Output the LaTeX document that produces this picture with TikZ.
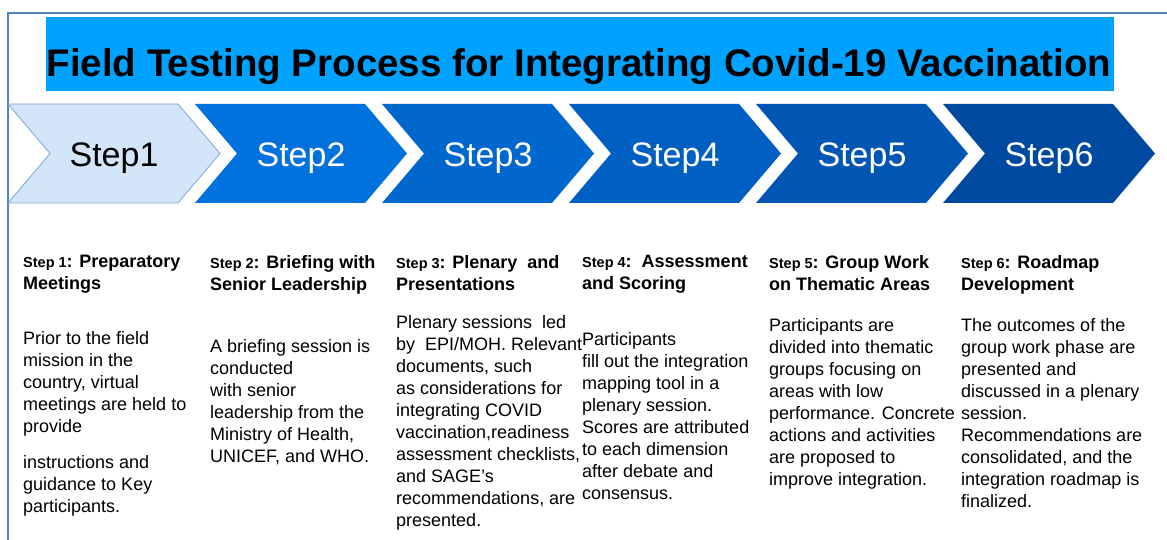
\documentclass[tikz,border=0pt]{standalone}
\usepackage{fontspec}
\setmainfont{Liberation Sans}
\definecolor{frameC}{HTML}{4F83C0}
\definecolor{titleC}{HTML}{00A2FF}
\definecolor{s1fill}{HTML}{D3E5F8}
\definecolor{s1line}{HTML}{7CA6D8}
\definecolor{s2C}{HTML}{0071DD}
\definecolor{s3C}{HTML}{0067CD}
\definecolor{s4C}{HTML}{005FC2}
\definecolor{s5C}{HTML}{0056B2}
\definecolor{s6C}{HTML}{0049A0}
\tikzset{
  steplabel/.style={font=\fontsize{34}{40}\selectfont, text=white, inner sep=0pt, anchor=base},
  hdr/.style={font=\bfseries\fontsize{18}{22}\selectfont, align=left, anchor=north west, inner sep=0pt},
  bodytext/.style={font=\fontsize{18}{22}\selectfont, align=left, anchor=north west, inner sep=0pt},
}
\newcommand{\sm}[1]{{\fontsize{14.5}{22}\selectfont #1}}
\begin{document}
\begin{tikzpicture}[x=1pt,y=-1pt]
\useasboundingbox (0,0) rectangle (1167,540);
\fill[white] (0,0) rectangle (1167,540);
% frame
\draw[frameC, line width=1.2pt] (8,540) -- (8,13) -- (1167,13);
% title
\node[fill=titleC, minimum width=1068pt, minimum height=74pt, inner sep=0pt, anchor=north west] (titlebox) at (46,17) {};
\node[font=\bfseries\fontsize{38.5}{44}\selectfont, inner sep=0pt, anchor=base] (title) at (579,77) {Field Testing Process for Integrating Covid-19 Vaccination};
% chevrons
\foreach \k/\c in {1/s2C,2/s3C,3/s4C,4/s5C,5/s6C}{
  \pgfmathsetmacro{\L}{8+187*\k}
  \fill[\c] (\L,104) -- (\L+170,104) -- (\L+212,153.5) -- (\L+170,203) -- (\L,203) -- (\L+42,153.5) -- cycle;
}
\filldraw[fill=s1fill, draw=s1line, line width=0.8pt] (8,104) -- (178,104) -- (220,153.5) -- (178,203) -- (8,203) -- (50,153.5) -- cycle;
\node[steplabel, text=black] (l1) at (114,167) {Step1};
\node[steplabel] (l2) at (301,167) {Step2};
\node[steplabel] (l3) at (488,167) {Step3};
\node[steplabel] (l4) at (675,167) {Step4};
\node[steplabel] (l5) at (862,167) {Step5};
\node[steplabel] (l6) at (1049,167) {Step6};
% headers
\node[hdr] (h1) at (23,255) {\sm{Step 1}: Preparatory\\Meetings};
\node[hdr] (h2) at (210,255) {\sm{Step 2}: Briefing with\\Senior Leadership};
\node[hdr] (h3) at (396,255) {\sm{Step 3}: Plenary\ \ and\\Presentations};
\node[hdr] (h4) at (582,255) {\sm{Step 4}:\ \ Assessment\\and Scoring};
\node[hdr] (h5) at (769,255) {\sm{Step 5}: Group Work\\on Thematic Areas};
\node[hdr] (h6) at (961,255) {\sm{Step 6}: Roadmap\\Development};
% bodies
\node[bodytext] (b1) at (23,331) {Prior to the field\\mission in the\\country, virtual\\meetings are held to\\provide\\[14pt]instructions and\\guidance to Key\\participants.};
\node[bodytext] (b2) at (210,339) {A briefing session is\\conducted\\with senior\\leadership from the\\Ministry of Health,\\UNICEF, and WHO.};
\node[bodytext] (b3) at (396,315) {Plenary sessions\ \ led\\by\ \ EPI/MOH. Relevant\\documents, such\\as considerations for\\integrating COVID\\vaccination,readiness\\assessment checklists,\\and SAGE's\\recommendations, are\\presented.};
\node[bodytext] (b4) at (582,332) {Participants\\fill out the integration\\mapping tool in a\\plenary session.\\Scores are attributed\\to each dimension\\after debate and\\consensus.};
\node[bodytext] (b5) at (769,318) {Participants are\\divided into thematic\\groups focusing on\\areas with low\\performance. Concrete\\actions and activities\\are proposed to\\improve integration.};
\node[bodytext] (b6) at (961,318) {The outcomes of the\\group work phase are\\presented and\\discussed in a plenary\\session.\\Recommendations are\\consolidated, and the\\integration roadmap is\\finalized.};
\end{tikzpicture}
\end{document}
